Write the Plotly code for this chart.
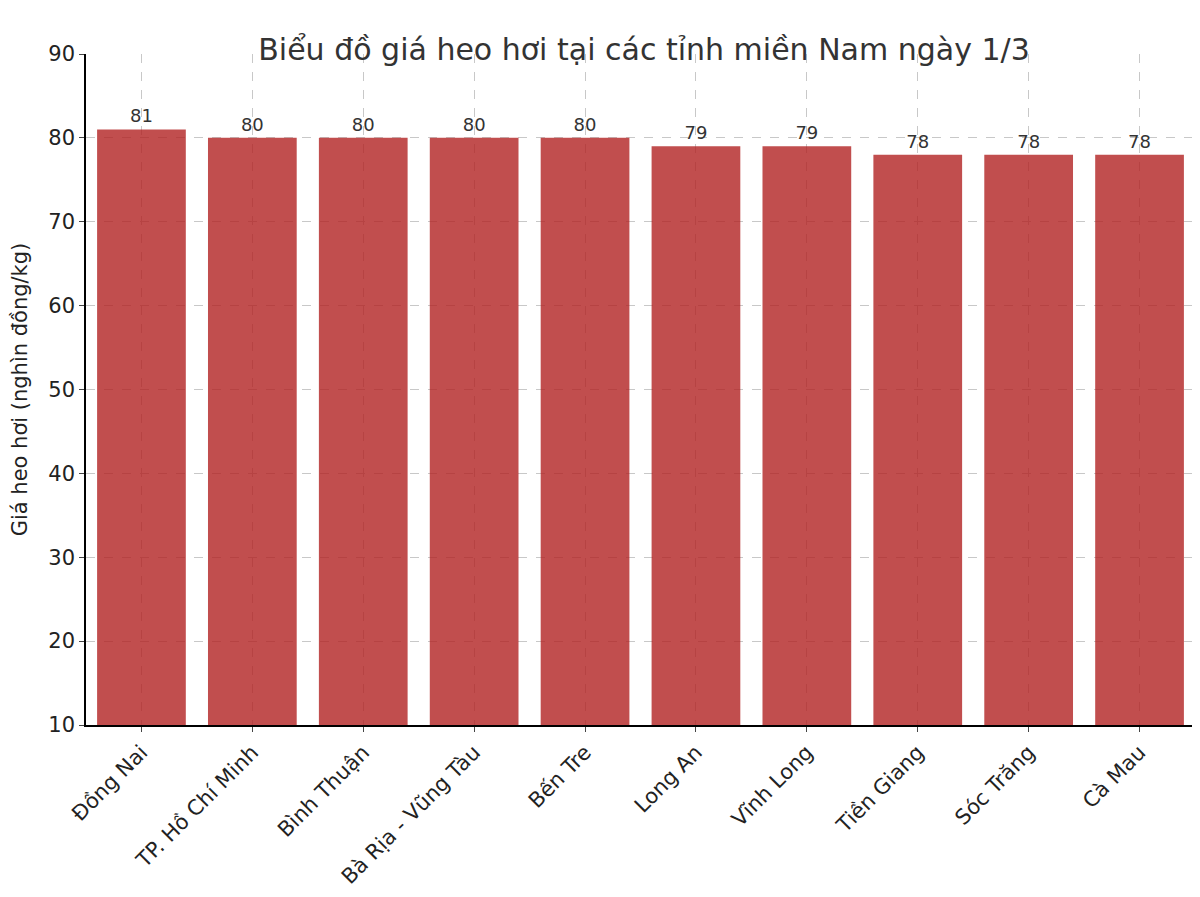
import plotly.graph_objects as go

provinces = ["Đồng Nai", "TP. Hồ Chí Minh", "Bình Thuận", "Bà Rịa - Vũng Tàu", "Bến Tre",
             "Long An", "Vĩnh Long", "Tiền Giang", "Sóc Trăng", "Cà Mau"]
prices = [81, 80, 80, 80, 80, 79, 79, 78, 78, 78]

fig = go.Figure(go.Bar(
    x=provinces, y=prices,
    marker=dict(color="firebrick", opacity=0.8, line_width=0),
    text=prices, textposition="outside", cliponaxis=False,
    textfont=dict(size=18, color="#333333"),
    width=0.8,
))

grid = dict(showgrid=True, gridcolor="#c8c8c8", griddash="dash", gridwidth=1)
fig.update_layout(
    width=1200, height=897,
    paper_bgcolor="white", plot_bgcolor="white",
    font=dict(family="DejaVu Sans", size=21, color="#222222"),
    title=dict(text="Biểu đồ giá heo hơi tại các tỉnh miền Nam ngày 1/3",
               x=0.53, xanchor="center", y=0.965, font=dict(size=30, color="#333333")),
    margin=dict(l=78, r=13, t=46, b=180),
    xaxis=dict(tickangle=-45, showline=True, linecolor="black", linewidth=1.5,
               ticks="outside", ticklen=5, range=[-0.5, 9.5], **grid),
    yaxis=dict(title=dict(text="Giá heo hơi (nghìn đồng/kg)", font=dict(size=21)),
               range=[10, 90], dtick=10, showline=True, linecolor="black", linewidth=1.5,
               ticks="outside", ticklen=5, zeroline=False, **grid),
    showlegend=False,
)

fig.write_html("out.html")
